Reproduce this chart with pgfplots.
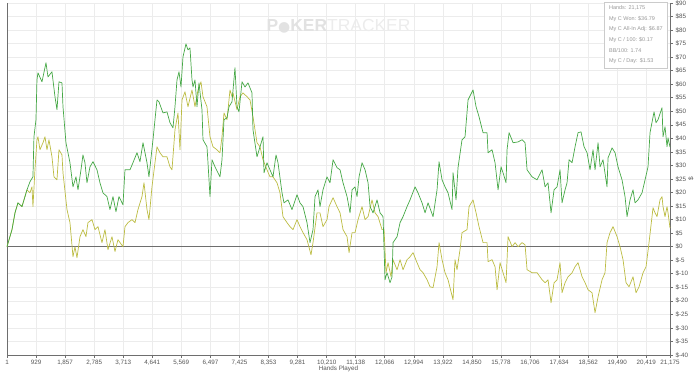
\documentclass[border=0pt]{standalone}
\usepackage{pgfplots}
\pgfplotsset{compat=1.18}
\usepackage{fontspec}
\setmainfont{Liberation Sans}
\newfontfamily\dejavu{DejaVu Sans}
\definecolor{wonc}{RGB}{70,168,70}
\definecolor{adjc}{RGB}{188,188,66}
\definecolor{gridc}{RGB}{236,236,236}
\definecolor{axc}{RGB}{110,110,110}
\definecolor{labc}{RGB}{85,85,85}
\definecolor{wmc}{RGB}{226,226,226}
\definecolor{wmc2}{RGB}{236,236,236}
\begin{document}
\begin{tikzpicture}
\begin{axis}[
  scale only axis,
  width=663bp, height=352bp,
  xmin=1, xmax=21175, ymin=-40, ymax=90,
  scaled x ticks=false, scaled y ticks=false,
  axis x line*=bottom, axis y line*=right,
  axis line style={axc, line width=0.8bp},
  tick align=outside, major tick length=3bp,
  tick style={axc, line width=0.6bp},
  xtick={1,929,1857,2785,3713,4641,5569,6497,7425,8353,9281,10210,11138,12066,12994,13922,14850,15778,16706,17634,18562,19490,20419,21175},
  xticklabels={1,929,{1,857},{2,785},{3,713},{4,641},{5,569},{6,497},{7,425},{8,353},{9,281},{10,210},{11,138},{12,066},{12,994},{13,922},{14,850},{15,778},{16,706},{17,634},{18,562},{19,490},{20,419},{21,175}},
  ytick={-40,-35,...,90},
  yticklabels={\$-40,\$-35,\$-30,\$-25,\$-20,\$-15,\$-10,\$-5,\$0,\$5,\$10,\$15,\$20,\$25,\$30,\$35,\$40,\$45,\$50,\$55,\$60,\$65,\$70,\$75,\$80,\$85,\$90},
  ticklabel style={font=\fontsize{6.3}{7}\selectfont, text=labc},
  xticklabel style={yshift=1bp},
  yticklabel style={xshift=-1bp},
  grid=major,
  major grid style={gridc, line width=0.6bp},
  xlabel={Hands Played},
  ylabel={\$},
  every axis x label/.style={at={(axis description cs:0.5,0)}, yshift=-13.5bp, anchor=center, font=\fontsize{6.3}{7}\selectfont, text=labc},
  every axis y label/.style={at={(axis description cs:1,0.5)}, xshift=21bp, rotate=90, anchor=center, font=\fontsize{6.5}{7}\selectfont, text=labc},
  clip=false,
]
% watermark
\node[anchor=center, inner sep=0pt] at (rel axis cs:0.5,0.935) {\fontsize{17.5}{18}\selectfont\textcolor{wmc}{\textbf{P{\dejavu\fontsize{14}{14}\selectfont●}KER}}\textcolor{wmc2}{TRACKER}};
% zero line and left axis line
\draw[axc, line width=0.8bp] (axis cs:1,0) -- (axis cs:21175,0);
\draw[axc, line width=0.8bp] (rel axis cs:0,0) -- (rel axis cs:0,1);
\coordinate (sw) at (rel axis cs:0,0);
\coordinate (ne) at (rel axis cs:1,1);

\addplot[adjc, line width=0.7bp, line join=round] coordinates {
(1,0) (160,6.3) (256,12.5) (351,16.2) (479,14.8) (639,21.0)
(735,19.9) (799,22.1) (830,14.8) (894,28.4) (958,39.5) (990,40.6) (1054,35.8) (1150,38.4) (1214,40.6) (1278,35.8) (1341,39.5) (1437,33.2) (1501,25.8) (1597,24.7) (1661,35.8) (1757,33.9) (1789,27.3) (1917,13.7) (2012,8.9) (2108,-3.7) (2172,0.0) (2236,-4.1) (2332,3.7) (2427,6.3) (2523,3.7) (2587,8.9) (2715,10.0) (2811,6.3) (2907,7.4) (3034,1.5) (3130,6.3) (3226,-1.1) (3354,3.7) (3450,-1.8) (3545,2.6) (3705,0.0) (3769,7.4) (3865,8.9) (3993,10.0) (4089,8.9) (4184,13.7) (4312,18.5) (4376,23.6) (4472,13.7) (4535,10.0) (4631,22.1) (4727,31.0) (4791,36.9) (4887,34.7) (4983,33.2) (5110,33.2) (5206,29.5) (5270,28.4) (5366,43.2) (5462,49.4) (5526,35.8) (5590,54.2) (5685,57.2) (5781,51.7) (5909,57.9) (6005,51.7) (6101,57.9) (6196,60.9) (6260,55.4) (6388,51.7) (6484,40.6) (6580,36.9) (6707,35.8) (6803,34.7) (6867,40.6) (6931,49.4) (7027,46.9) (7123,57.9) (7187,55.4) (7218,56.8) (7346,50.6) (7442,55.4) (7538,56.8) (7666,55.4) (7762,54.2) (7857,48.0) (7985,38.4) (8081,36.9) (8177,32.1) (8304,28.4) (8400,25.8) (8496,25.8) (8624,23.6) (8720,19.9) (8815,11.1) (8943,8.9) (9039,7.4) (9135,6.3) (9263,10.0) (9358,7.4) (9454,5.2) (9582,2.6) (9710,-3.0) (9774,1.5) (9901,12.5)
(9997,12.5) (10093,7.4) (10221,10.0) (10285,14.8) (10414,18.1) (10541,14.8) (10637,12.5) (10733,6.3) (10861,3.7) (10925,-2.2) (11021,5.2) (11116,5.2) (11212,10.0) (11340,14.8) (11436,10.0) (11532,11.1) (11659,17.3) (11755,12.5) (11851,11.1) (11979,6.3) (12043,6.3) (12106,-9.6) (12170,-5.9) (12266,-11.1) (12330,-4.8) (12458,-8.5) (12554,-4.8) (12649,-8.5) (12777,-4.8) (12873,-3.7) (12969,-2.2) (13096,-5.9) (13192,-8.5) (13288,-9.6) (13416,-12.2) (13512,-14.8) (13608,-15.1) (13735,-7.4) (13799,1.5) (13895,-4.8) (13990,-9.6) (14086,-12.2) (14246,-19.6) (14309,-4.8) (14373,-8.5) (14469,-1.1) (14533,5.2) (14693,6.3) (14757,14.8) (14885,17.3) (14981,12.5) (15076,7.4) (15204,1.5) (15332,1.5) (15364,-5.5) (15492,-4.8) (15588,-7.4) (15652,-15.9) (15747,-5.9) (15843,-9.6) (15939,-13.3) (16003,3.7) (16131,0.0) (16227,1.5) (16323,0.0) (16450,1.5) (16546,0.7) (16610,-8.5) (16770,-9.6) (16929,-9.6) (17089,-12.2) (17185,-13.3) (17280,-12.2) (17376,-20.7) (17472,-13.3) (17568,-12.2) (17663,-5.9) (17727,-17.0) (17823,-13.3) (17919,-11.1) (18047,-9.6) (18143,-7.4) (18238,-5.9) (18366,-11.1) (18462,-13.3) (18558,-15.9) (18685,-17.0) (18781,-24.4) (18877,-18.5) (19005,-12.2) (19100,-9.6) (19164,1.5) (19260,5.2) (19356,7.4) (19484,3.7) (19579,0.0) (19675,-4.8) (19771,-13.3) (19867,-14.8) (19994,-11.1) (20090,-17.0) (20186,-14.8) (20314,-9.6) (20410,-7.4) (20505,1.5) (20633,14.4) (20697,12.5) (20760,11.1) (20856,17.3) (20920,18.5) (20952,14.8) (21016,11.1) (21080,14.8) (21112,12.5) (21175,6.9)
};

\addplot[wonc, line width=0.7bp, line join=round] coordinates {
(1,0) (160,6.3) (256,12.5) (351,16.2) (479,14.8) (639,21.0) (735,24.0) (830,25.8) (862,40.6) (926,46.9) (958,61.6) (990,64.2) (1118,60.9) (1246,67.9) (1310,62.7) (1437,64.6) (1533,55.4) (1597,50.6) (1661,60.9) (1757,60.5) (1789,51.7) (1884,38.4) (2012,31.0) (2108,22.1) (2204,25.8) (2268,21.0) (2364,28.4) (2427,33.9) (2491,31.0) (2555,23.6) (2651,29.5) (2747,31.4) (2875,28.4) (2970,23.6) (3066,19.9) (3194,18.5) (3290,13.7) (3386,18.5) (3481,12.9) (3577,18.5) (3705,15.5) (3769,28.4) (3929,28.4) (4024,31.0) (4152,34.7) (4248,31.4) (4344,38.4) (4472,31.0) (4535,25.8) (4663,39.5) (4791,54.2) (4855,53.5) (4983,49.4) (5110,49.8) (5206,45.8) (5302,43.9) (5366,51.7) (5430,61.6) (5494,64.6) (5558,59.0) (5621,70.1) (5717,74.9) (5781,72.7) (5845,73.4) (5909,61.6) (5941,59.0) (6005,61.6) (6069,51.7) (6132,60.5) (6228,50.6) (6260,39.5) (6388,36.9) (6420,31.0) (6484,18.5) (6548,32.1) (6644,29.5) (6739,27.3) (6803,25.8) (6867,32.1) (6931,46.9) (7027,47.6) (7091,51.7) (7187,53.5) (7282,66.1) (7346,51.7) (7410,49.8) (7506,60.9) (7602,59.0) (7698,60.5) (7825,56.8) (7857,43.2) (7985,33.2) (8081,36.9) (8177,40.6) (8209,27.3) (8304,31.0) (8400,28.4) (8496,25.8) (8592,33.9) (8656,31.0) (8784,19.9) (8847,16.2) (8975,17.3) (9103,13.7) (9263,19.2) (9358,16.2) (9454,14.8) (9582,8.9) (9678,1.5) (9774,6.3) (9838,18.5) (9933,21.0)
(9997,14.8) (10093,21.0) (10221,25.8) (10317,23.6) (10414,32.1) (10541,29.2) (10637,28.4) (10733,23.6) (10861,18.5) (10957,12.5) (11021,21.0) (11116,22.1) (11180,18.5) (11244,25.8) (11340,31.0) (11436,28.4) (11532,23.6) (11596,14.8) (11691,12.5) (11819,17.3) (11915,12.5) (12011,11.1) (12074,-12.2) (12138,-9.6) (12234,-13.3) (12298,-11.1) (12330,1.5) (12458,3.7) (12554,8.9) (12649,11.1) (12777,14.8) (12873,17.3) (13033,22.1) (13128,19.9) (13256,16.2) (13352,12.5) (13448,16.2) (13608,11.1) (13735,21.0) (13799,31.4) (13895,24.7) (13990,22.1) (14086,19.9) (14214,13.7) (14246,27.3) (14342,17.3) (14405,29.2) (14533,39.5) (14629,40.6) (14725,54.2) (14885,57.9) (14981,51.7) (15076,48.0) (15204,42.1) (15332,42.1) (15364,34.7) (15492,35.8) (15588,31.0) (15684,21.0) (15779,29.5) (15843,27.3) (15939,23.6) (15971,35.8) (16035,42.1) (16163,38.4) (16323,38.7) (16450,39.5) (16546,38.4) (16610,28.4) (16770,25.8) (16929,24.7) (17089,28.4) (17185,22.1) (17280,23.6) (17376,12.5) (17472,21.0) (17568,22.1) (17663,28.4) (17727,16.2) (17823,21.0) (17887,23.6) (17951,32.1) (18047,31.0) (18143,36.9) (18238,42.1) (18334,42.4) (18430,36.9) (18526,34.7) (18621,28.4) (18717,35.8) (18781,28.4) (18877,38.4) (18941,29.5) (19036,32.1) (19164,22.1) (19196,32.8) (19324,36.5) (19420,34.7) (19515,29.5) (19643,24.7) (19739,18.5) (19803,11.1) (19899,17.3) (19994,21.0) (20058,16.2) (20154,17.3) (20282,19.9) (20378,24.7) (20473,29.5) (20537,42.1) (20665,49.8) (20728,45.8) (20792,46.9) (20920,51.3) (20952,40.6) (21016,44.3) (21080,36.9) (21112,40.2) (21175,36.8)
};

% stats box
\node[anchor=north east, draw=gridc!70!gray, fill=white, line width=0.6bp, inner xsep=3bp, inner ysep=4bp, align=left, text=gray!80, font=\fontsize{5.5}{10.6}\selectfont, minimum width=63bp] at (rel axis cs:0.9965,1.004)
{Hands: 21,175\\ My C Won: \$36.79\\ My C All-In Adj: \$6.87\\ My C / 100: \$0.17\\ BB/100: 1.74\\ My C / Day: \$1.53};
\end{axis}
\pgfresetboundingbox
\path ([shift={(-7bp,-18bp)}]sw) rectangle ([shift={(30bp,3bp)}]ne);
\end{tikzpicture}
\end{document}
